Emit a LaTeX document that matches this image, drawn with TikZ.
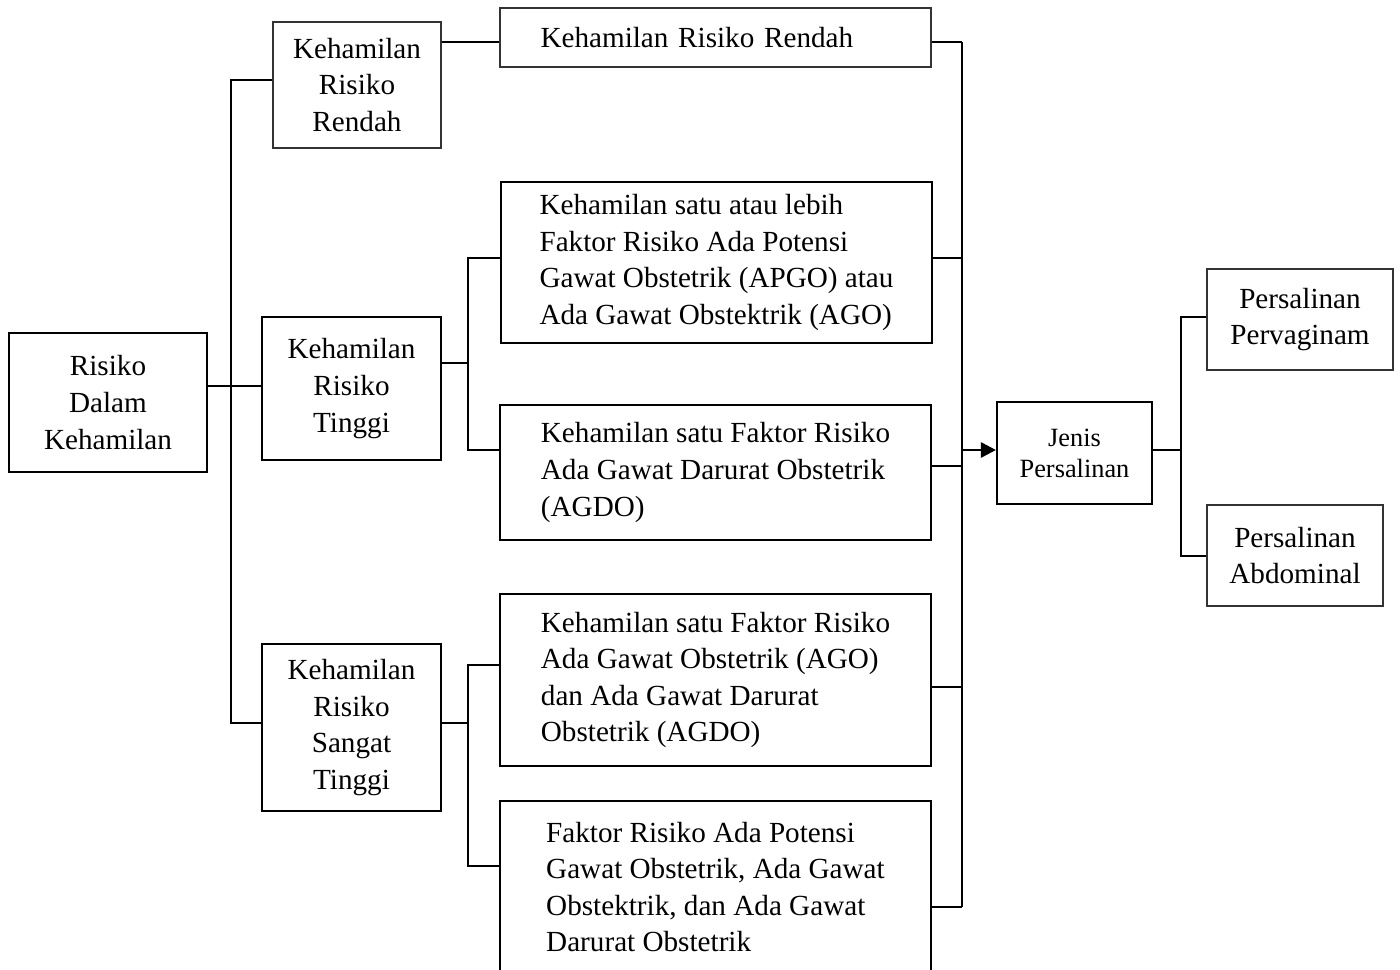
\documentclass[tikz,border=0pt]{standalone}
\usepackage{fontspec}
\setmainfont{Liberation Serif}
\usetikzlibrary{arrows.meta,positioning,calc}

\begin{document}
\begin{tikzpicture}[x=0.02cm,y=-0.02cm,
  base/.style={draw,align=center,inner sep=0pt,
    font=\fontsize{16.6}{20.8}\selectfont},
  thick box/.style={base,line width=1.6pt},
  thin box/.style={base,draw=black!80,line width=0.8pt},
  wide box/.style={minimum width=8.62cm,align=left},
  link/.style={line width=1.5pt}]
  \useasboundingbox (0,0) rectangle (1400,970);

  % left column
  \node[thick box,minimum width=3.96cm,minimum height=2.78cm] (risk) at (108,402.5) {Risiko\\Dalam\\Kehamilan};
  \node[thin box,minimum width=3.36cm,minimum height=2.52cm] (rendah) at (357,85) {Kehamilan\\Risiko\\Rendah};
  \node[thick box,minimum width=3.58cm,minimum height=2.86cm] (tinggi) at (351.5,388.5) {Kehamilan\\Risiko\\Tinggi};
  \node[thick box,minimum width=3.58cm,minimum height=3.34cm] (sangat) at (351.5,727.5) {Kehamilan\\Risiko\\Sangat\\Tinggi};

  % middle column
  \node[thin box,wide box,text width=7.0cm,minimum height=1.18cm] (krr) at (715.5,37.5) {Kehamilan Risiko Rendah};
  \node[thick box,wide box,minimum height=3.22cm] (apgo) at (716.5,262.5)
    {Kehamilan satu atau lebih\\Faktor Risiko Ada Potensi\\Gawat Obstetrik (APGO) atau\\Ada Gawat Obstektrik (AGO)};
  \node[thick box,wide box,minimum height=2.7cm] (agdo) at (715.5,472.5)
    {Kehamilan satu Faktor Risiko\\Ada Gawat Darurat Obstetrik\\(AGDO)};
  \node[thick box,wide box,minimum height=3.44cm] (agoagdo) at (715.5,680)
    {Kehamilan satu Faktor Risiko\\Ada Gawat Obstetrik (AGO)\\dan Ada Gawat Darurat\\Obstetrik (AGDO)};
  \node[thick box,wide box,minimum height=3.44cm] (semua) at (715.5,887)
    {Faktor Risiko Ada Potensi\\Gawat Obstetrik, Ada Gawat\\Obstektrik, dan Ada Gawat\\Darurat Obstetrik};

  % right column
  \node[base,line width=1.2pt,minimum width=3.1cm,minimum height=2.04cm,
    font=\fontsize{15}{17.6}\selectfont] (jenis) at (1074.5,453) {Jenis\\Persalinan};
  \node[thin box,minimum width=3.72cm,minimum height=2.02cm] (pervag) at (1300,319.5) {Persalinan\\Pervaginam};
  \node[thin box,minimum width=3.52cm,minimum height=2.02cm] (abdom) at (1295,555.5) {Persalinan\\Abdominal};

  % trunk points
  \coordinate (l0) at (231,386);
  \coordinate (l1) at (231,80);
  \coordinate (l2) at (231,723);
  \coordinate (m0) at (468,363);
  \coordinate (m1) at (468,258);
  \coordinate (m2) at (468,450);
  \coordinate (m5) at (468,723);
  \coordinate (m3) at (468,665);
  \coordinate (m4) at (468,866);
  \coordinate (r1) at (962,42);
  \coordinate (r2) at (962,258);
  \coordinate (r3) at (962,466);
  \coordinate (r4) at (962,687);
  \coordinate (r5) at (962,907);
  \coordinate (r0) at (962,450);
  \coordinate (p0) at (1181,450);
  \coordinate (p1) at (1181,317);
  \coordinate (p2) at (1181,556);

  % connectors
  \draw[link] (l1 -| rendah.west) -- (l1) -- (l2) -- (l2 -| sangat.west);
  \draw[link] (l0 -| risk.east) -- (l0 -| tinggi.west);
  \draw[link] (r1 -| rendah.east) -- (r1 -| krr.west);
  \draw[link] (m1 -| apgo.west) -- (m1) -- (m2) -- (m2 -| agdo.west);
  \draw[link] (m0 -| tinggi.east) -- (m0);
  \draw[link] (m3 -| agoagdo.west) -- (m3) -- (m4) -- (m4 -| semua.west);
  \draw[link] (m5 -| sangat.east) -- (m5);
  \draw[link] (r1) -- (r5);
  \foreach \p/\b in {r1/krr,r2/apgo,r3/agdo,r4/agoagdo,r5/semua}
    \draw[link] (\p -| \b.east) -- (\p);
  \draw[link,-{Triangle[length=0.3cm,width=0.3cm]}] (r0) -- (r0 -| jenis.west);
  \draw[link] (p0 -| jenis.east) -- (p0);
  \draw[link] (p1 -| pervag.west) -- (p1) -- (p2) -- (p2 -| abdom.west);
\end{tikzpicture}
\end{document}
